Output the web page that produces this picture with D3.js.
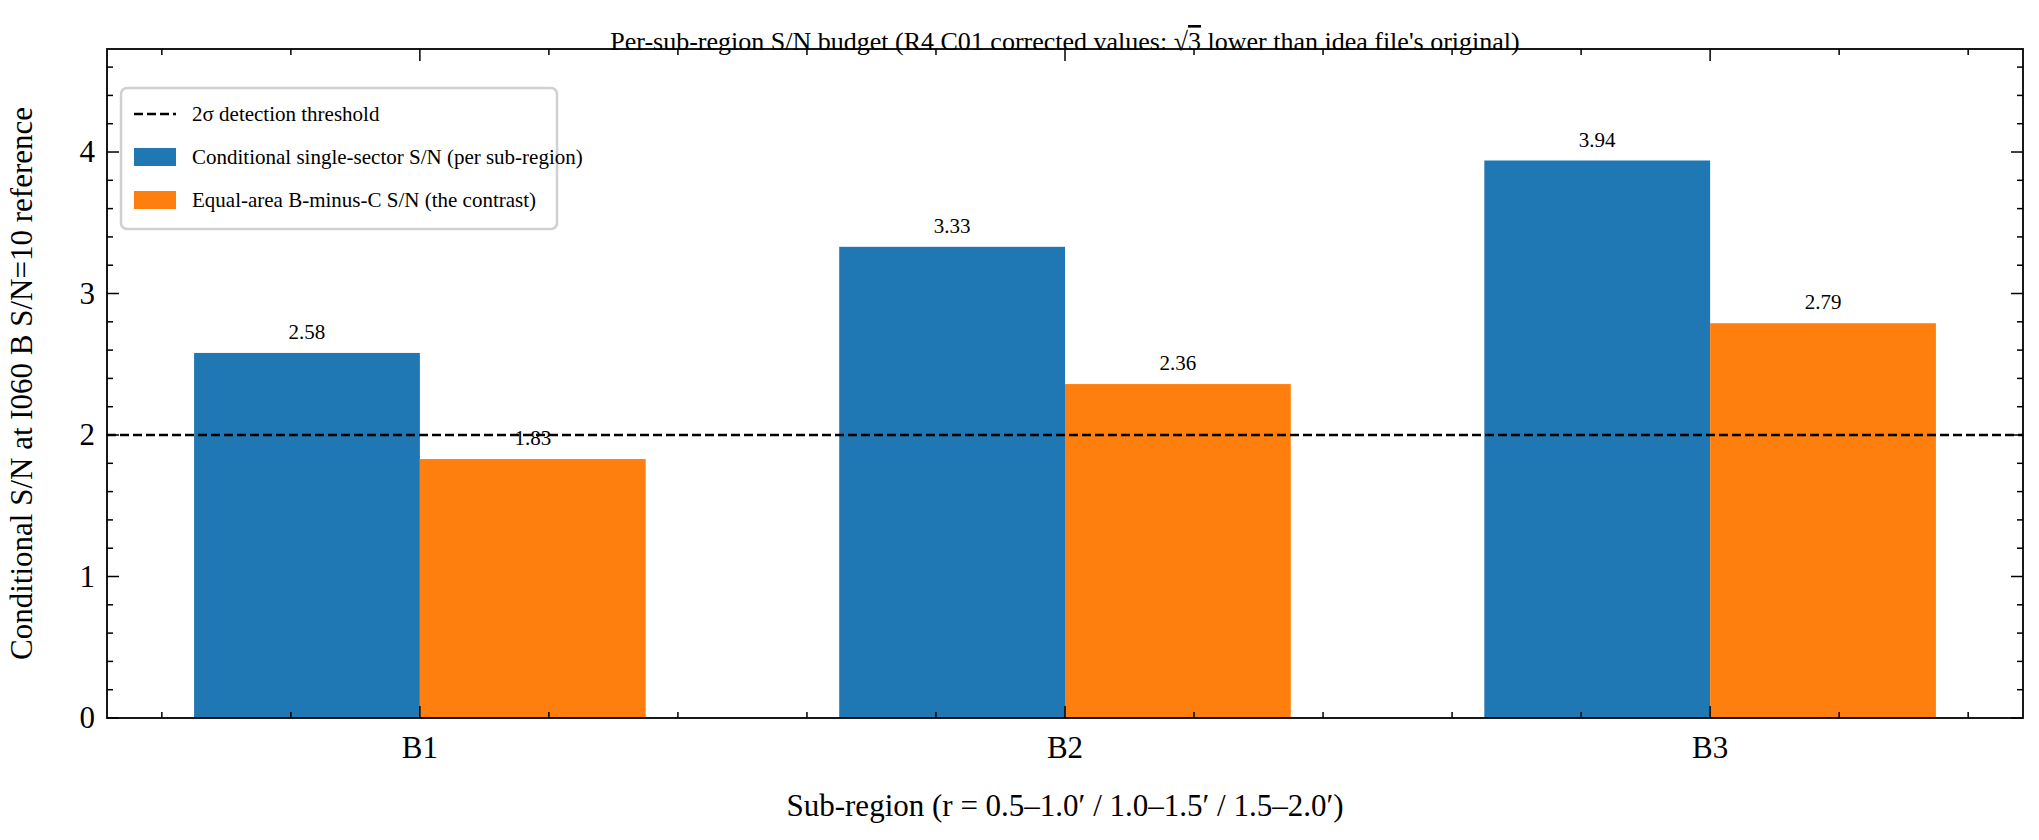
<!DOCTYPE html>
<html><head><meta charset="utf-8">
<script src="https://cdn.jsdelivr.net/npm/d3@7"></script>
<style>body{margin:0;background:#fff}text{font-family:"Liberation Serif","DejaVu Serif",serif}</style>
</head><body><div id="chart"></div>
<script>
// data
const regions = ["B1", "B2", "B3"];
const singleSector = [2.58, 3.33, 3.94];
const contrast = [1.83, 2.36, 2.79];
const threshold = 2;
const yTicks = [0, 1, 2, 3, 4];

const W = 2039, H = 840;
const margin = {top: 49, right: 16, bottom: 122, left: 107};
const w = W - margin.left - margin.right, h = H - margin.top - margin.bottom;
const blue = "#1f77b4", orange = "#ff7f0e", bw = 0.35;

const svg = d3.select("#chart").append("svg").attr("width", W).attr("height", H);
const g = svg.append("g").attr("transform", `translate(${margin.left},${margin.top})`);

const x = d3.scaleLinear().domain([-0.485, 2.485]).range([0, w]);
const y = d3.scaleLinear().domain([0, 4.728]).range([h, 0]);

// bars
const series = [{vals: singleSector, off: -bw / 2, col: blue}, {vals: contrast, off: bw / 2, col: orange}];
series.forEach(s => {
    g.selectAll(null).data(s.vals).enter().append("rect")
        .attr("x", (d, i) => x(i + s.off - bw / 2))
        .attr("width", x(bw) - x(0))
        .attr("y", d => y(d))
        .attr("height", d => y(0) - y(d))
        .attr("fill", s.col);
    g.selectAll(null).data(s.vals).enter().append("text")
        .attr("x", (d, i) => x(i + s.off))
        .attr("y", d => y(d) - 14)
        .attr("text-anchor", "middle").attr("font-size", 21)
        .text(d => d.toFixed(2));
});

// threshold
g.append("line").attr("x1", 0).attr("x2", w).attr("y1", y(threshold)).attr("y2", y(threshold))
    .attr("stroke", "#000").attr("stroke-width", 2.5).attr("stroke-dasharray", "9,4");

// ticks (inward, all sides)
function tickLines(vals, len, axis) {
    vals.forEach(v => {
        if (axis === "x") {
            const px = x(v);
            g.append("line").attr("x1", px).attr("x2", px).attr("y1", h).attr("y2", h - len).attr("stroke", "#000").attr("stroke-width", 1.5);
            g.append("line").attr("x1", px).attr("x2", px).attr("y1", 0).attr("y2", len).attr("stroke", "#000").attr("stroke-width", 1.5);
        } else {
            const py = y(v);
            g.append("line").attr("x1", 0).attr("x2", len).attr("y1", py).attr("y2", py).attr("stroke", "#000").attr("stroke-width", 1.5);
            g.append("line").attr("x1", w).attr("x2", w - len).attr("y1", py).attr("y2", py).attr("stroke", "#000").attr("stroke-width", 1.5);
        }
    });
}
const xMinor = d3.range(-0.4, 2.45, 0.2).filter(v => Math.abs(v - Math.round(v)) > 0.01);
const yMinor = d3.range(0.2, 4.7, 0.2).filter(v => Math.abs(v - Math.round(v)) > 0.01);
tickLines([0, 1, 2], 12, "x");
tickLines(xMinor, 6, "x");
tickLines(yTicks, 12, "y");
tickLines(yMinor, 6, "y");

g.append("rect").attr("width", w).attr("height", h).attr("fill", "none").attr("stroke", "#000").attr("stroke-width", 1.8);

regions.forEach((r, i) => g.append("text").attr("x", x(i)).attr("y", h + 40).attr("text-anchor", "middle").attr("font-size", 31).text(r));
yTicks.forEach(t => g.append("text").attr("x", -12).attr("y", y(t) + 10).attr("text-anchor", "end").attr("font-size", 31).text(t));

// axis labels
g.append("text").attr("x", w / 2).attr("y", h + 98).attr("text-anchor", "middle").attr("font-size", 31)
    .text("Sub-region (r = 0.5\u20131.0\u2032 / 1.0\u20131.5\u2032 / 1.5\u20132.0\u2032)");
g.append("text").attr("transform", `translate(${-75},${h / 2}) rotate(-90)`).attr("text-anchor", "middle").attr("font-size", 31)
    .text("Conditional S/N at I060 B S/N=10 reference");

// title
const title = svg.append("text").attr("x", margin.left + w / 2).attr("y", 50).attr("text-anchor", "middle").attr("font-size", 26);
title.append("tspan").text("Per-sub-region S/N budget (R4 C01 corrected values: \u221A");
title.append("tspan").attr("text-decoration", "overline").text("3");
title.append("tspan").text(" lower than idea file's original)");

// legend
const lg = g.append("g").attr("transform", "translate(14,39)");
lg.append("rect").attr("width", 436).attr("height", 141).attr("rx", 6).attr("fill", "#fff").attr("stroke", "#d0d0d0").attr("stroke-width", 2.5);
const items = [{t: "2\u03C3 detection threshold", type: "line"},
    {t: "Conditional single-sector S/N (per sub-region)", col: blue},
    {t: "Equal-area B-minus-C S/N (the contrast)", col: orange}];
items.forEach((it, i) => {
    const cy = 26 + i * 43;
    if (it.type === "line") {
        lg.append("line").attr("x1", 13).attr("x2", 55).attr("y1", cy).attr("y2", cy).attr("stroke", "#000").attr("stroke-width", 2.5).attr("stroke-dasharray", "9,4");
    } else {
        lg.append("rect").attr("x", 13).attr("y", cy - 9).attr("width", 42).attr("height", 18).attr("fill", it.col);
    }
    lg.append("text").attr("x", 71).attr("y", cy + 7).attr("font-size", 21).text(it.t);
});
</script></body></html>
